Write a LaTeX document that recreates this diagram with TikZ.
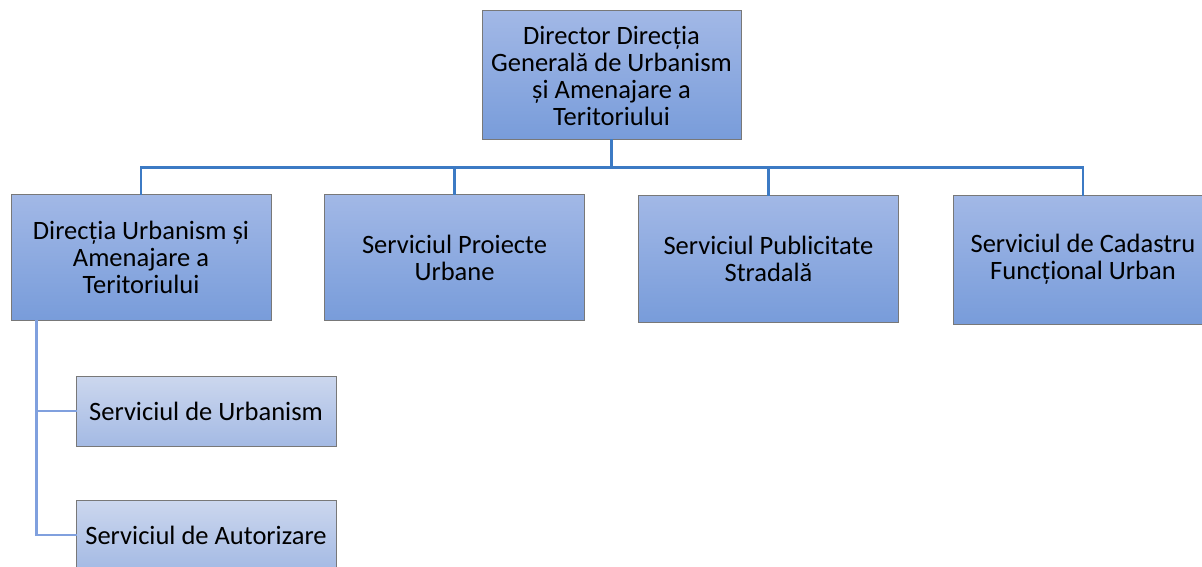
\documentclass[tikz,border=0pt]{standalone}
\usepackage{fontspec}
\setmainfont{Carlito}
\definecolor{boxtop}{RGB}{162,184,230}
\definecolor{boxbot}{RGB}{120,156,218}
\definecolor{subtop}{RGB}{204,215,238}
\definecolor{subbot}{RGB}{164,186,228}
\definecolor{busblue}{RGB}{60,122,196}
\definecolor{subblue}{RGB}{128,160,222}
\definecolor{edge}{RGB}{120,120,120}

\begin{document}
\begin{tikzpicture}[line cap=rect,line join=miter,x=1pt,y=-1pt,
    box/.style={draw=edge,line width=1pt,top color=boxtop,bottom color=boxbot,
        minimum width=260pt,minimum height=126pt,inner sep=0pt,align=center,
        font=\fontsize{26.5}{27}\selectfont},
    subbox/.style={box,top color=subtop,bottom color=subbot,minimum height=70pt},
    bus/.style={line width=2.8pt,color=busblue},
    subline/.style={line width=2.8pt,color=subblue}]

    \useasboundingbox (0,0) rectangle (1202,567);

    % director
    \node[box,minimum width=259pt,minimum height=129pt] (dir) at (611.5,75.5)
        {Director Direcția\\Generală de Urbanism\\și Amenajare a\\Teritoriului};

    % first level
    \node[box] (dua) at (141,257.5) {Direcția Urbanism și\\Amenajare a\\Teritoriului};
    \node[box] (spu) at (454.5,257.5) {Serviciul Proiecte\\Urbane};
    \node[box,minimum height=127pt] (sps) at (768.5,258.5) {Serviciul Publicitate\\Stradală};
    \node[box,minimum height=129pt] (scf) at (1083,259.5) {Serviciul de Cadastru\\Funcțional Urban};

    % second level
    \node[subbox] (sur) at (206,411) {Serviciul de Urbanism};
    \node[subbox] (saut) at (206,535) {Serviciul de Autorizare};

    \draw[bus] (dir.south) -- ++(0,27) -| (dua.north);
    \draw[bus] (dir.south) -- ++(0,27) -| (spu.north);
    \draw[bus] (dir.south) -- ++(0,27) -| (sps.north);
    \draw[bus] (dir.south) -- ++(0,27) -| (scf.north);

    \draw[subline] ([xshift=26pt]dua.south west) |- (sur.west);
    \draw[subline] ([xshift=26pt]dua.south west) |- (saut.west);
\end{tikzpicture}
\end{document}
